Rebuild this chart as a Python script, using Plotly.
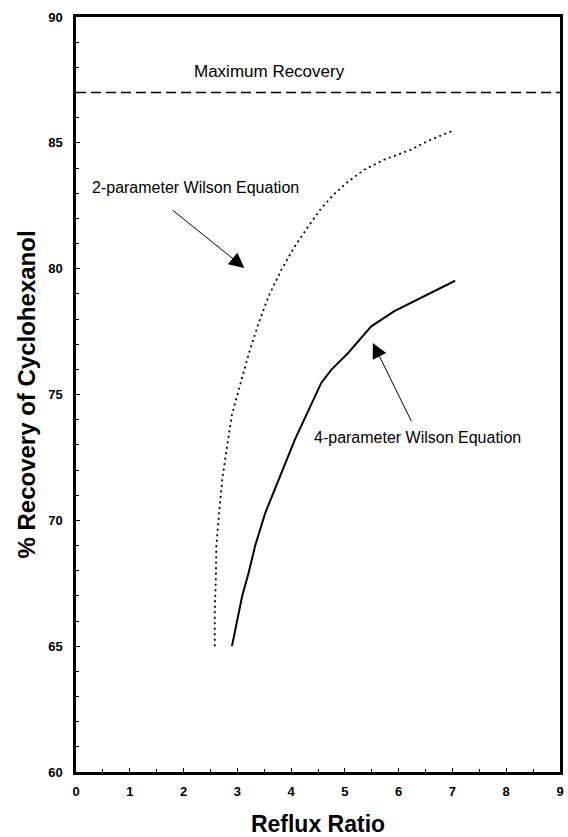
import plotly.graph_objects as go

# Data
ratio_2p = [2.58, 2.58, 2.60, 2.61, 2.66, 2.72, 2.81, 2.90, 3.06, 3.21, 3.39, 3.58,
            3.82, 4.07, 4.32, 4.56, 4.81, 5.06, 5.36, 5.73, 6.22, 6.59, 7.02]
rec_2p = [65.0, 66.34, 67.66, 68.98, 70.30, 71.63, 72.95, 74.20, 75.45, 76.60, 77.80, 78.90,
          79.96, 80.89, 81.68, 82.40, 82.98, 83.46, 83.93, 84.33, 84.72, 85.12, 85.49]

ratio_4p = [2.90, 3.09, 3.21, 3.33, 3.52, 3.70, 4.07, 4.56, 4.75, 5.06, 5.27,
            5.49, 5.92, 6.35, 7.05]
rec_4p = [65.0, 66.99, 67.92, 68.98, 70.30, 71.23, 73.21, 75.46, 75.99, 76.65, 77.18,
          77.71, 78.31, 78.77, 79.52]

max_recovery = 87.0
x_range = [0, 9]
y_range = [60, 90]
x_ticks = [0, 1, 2, 3, 4, 5, 6, 7, 8, 9]
y_ticks = [60, 65, 70, 75, 80, 85, 90]

FONT = "Liberation Sans, Arial, sans-serif"

fig = go.Figure()
fig.add_trace(go.Scatter(x=x_range, y=[max_recovery, max_recovery], mode="lines",
                         line=dict(color="black", width=1.6, dash="10px,5px"),
                         showlegend=False, hoverinfo="skip"))
fig.add_trace(go.Scatter(x=ratio_2p, y=rec_2p, mode="lines",
                         line=dict(color="black", width=1.8, dash="2px,3.5px"),
                         showlegend=False))
fig.add_trace(go.Scatter(x=ratio_4p, y=rec_4p, mode="lines",
                         line=dict(color="black", width=2),
                         showlegend=False))

annotations = [
    dict(x=3.60, y=87.82, text="Maximum Recovery", showarrow=False,
         font=dict(family=FONT, size=17, color="black")),
    dict(x=2.23, y=83.21, text="2-parameter Wilson Equation", showarrow=False,
         font=dict(family=FONT, size=16, color="black")),
    dict(x=6.35, y=73.29, text="4-parameter Wilson Equation", showarrow=False,
         font=dict(family=FONT, size=16, color="black")),
    dict(x=3.13, y=80.03, ax=1.77, ay=82.37, axref="x", ayref="y", text="",
         showarrow=True, arrowhead=2, arrowsize=3, arrowwidth=1, arrowcolor="black"),
    dict(x=5.52, y=77.05, ax=6.25, ay=73.88, axref="x", ayref="y", text="",
         showarrow=True, arrowhead=2, arrowsize=3, arrowwidth=1, arrowcolor="black"),
]

fig.update_layout(
    width=568, height=837,
    margin=dict(l=76, r=4, t=17, b=64),
    paper_bgcolor="white", plot_bgcolor="white",
    font=dict(family=FONT, color="black"),
    annotations=annotations,
)
fig.update_xaxes(range=x_range, tickvals=x_ticks, ticks="inside", ticklen=4, tickwidth=1,
                 tickcolor="black", showgrid=False, zeroline=False,
                 showline=True, linecolor="black", linewidth=2.5, mirror=True,
                 tickfont=dict(family=FONT, size=13, color="black", weight="bold"),
                 ticklabelstandoff=6,
                 minor=dict(dtick=0.5, ticks="inside", ticklen=3, tickcolor="black", showgrid=False),
                 title=dict(text="Reflux Ratio", standoff=18,
                            font=dict(family=FONT, size=23, color="black", weight="bold")))
fig.update_yaxes(range=y_range, tickvals=y_ticks, ticks="inside", ticklen=4, tickwidth=1,
                 tickcolor="black", showgrid=False, zeroline=False,
                 showline=True, linecolor="black", linewidth=2.5, mirror=True,
                 tickfont=dict(family=FONT, size=13, color="black", weight="bold"),
                 ticklabelstandoff=8,
                 minor=dict(dtick=1, ticks="inside", ticklen=3, tickcolor="black", showgrid=False),
                 title=dict(text="% Recovery of Cyclohexanol", standoff=6,
                            font=dict(family=FONT, size=24, color="black", weight="bold")))

fig.write_html("out.html")
